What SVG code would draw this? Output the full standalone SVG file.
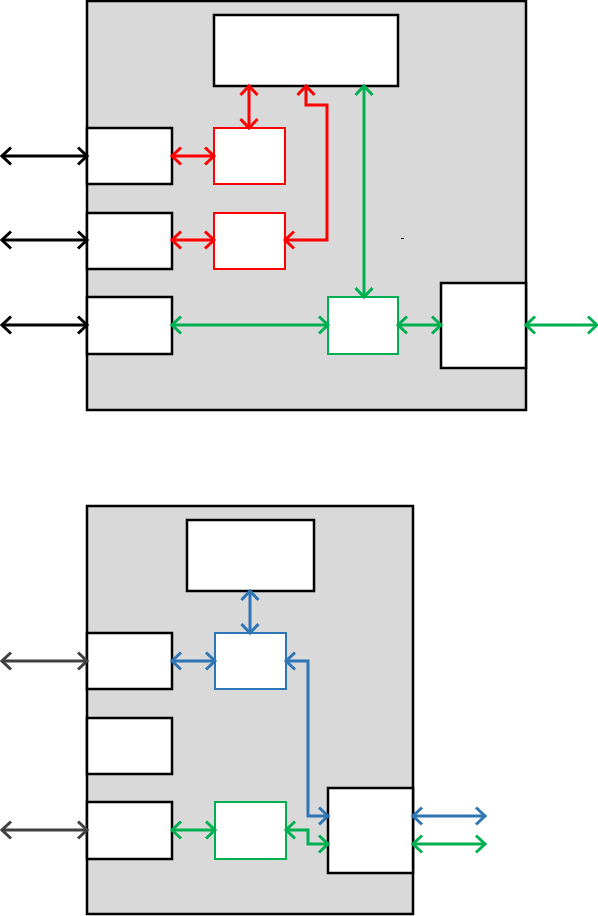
<svg xmlns="http://www.w3.org/2000/svg" width="598" height="916" viewBox="0 0 598 916">
<style>
.panel{fill:#D9D9D9;stroke:#000;stroke-width:2.5}
.box{fill:#fff;stroke:#000;stroke-width:2.5}
.rbox{fill:#fff;stroke:#FF0000;stroke-width:2}
.gbox{fill:#fff;stroke:#00B050;stroke-width:2}
.bbox{fill:#fff;stroke:#2E75B6;stroke-width:2}
.c{fill:none;stroke-width:3}
.k{stroke:#000;marker-start:url(#mk);marker-end:url(#mk)}
.d{stroke:#404040;marker-start:url(#md);marker-end:url(#md)}
.r{stroke:#FF0000;marker-start:url(#mr);marker-end:url(#mr)}
.g{stroke:#00B050;marker-start:url(#mg);marker-end:url(#mg)}
.b{stroke:#2E75B6;marker-start:url(#mb);marker-end:url(#mb)}
</style>
<defs>
<marker id="mk" markerUnits="userSpaceOnUse" orient="auto-start-reverse" refX="0" refY="0" markerWidth="20" markerHeight="20" overflow="visible"><path d="M-9,-8.5 L0,0 L-9,8.5" fill="none" stroke="#000" stroke-width="3"/></marker>
<marker id="md" markerUnits="userSpaceOnUse" orient="auto-start-reverse" refX="0" refY="0" markerWidth="20" markerHeight="20" overflow="visible"><path d="M-9,-8.5 L0,0 L-9,8.5" fill="none" stroke="#404040" stroke-width="3"/></marker>
<marker id="mr" markerUnits="userSpaceOnUse" orient="auto-start-reverse" refX="0" refY="0" markerWidth="20" markerHeight="20" overflow="visible"><path d="M-9,-8.5 L0,0 L-9,8.5" fill="none" stroke="#FF0000" stroke-width="3"/></marker>
<marker id="mg" markerUnits="userSpaceOnUse" orient="auto-start-reverse" refX="0" refY="0" markerWidth="20" markerHeight="20" overflow="visible"><path d="M-9,-8.5 L0,0 L-9,8.5" fill="none" stroke="#00B050" stroke-width="3"/></marker>
<marker id="mb" markerUnits="userSpaceOnUse" orient="auto-start-reverse" refX="0" refY="0" markerWidth="20" markerHeight="20" overflow="visible"><path d="M-9,-8.5 L0,0 L-9,8.5" fill="none" stroke="#2E75B6" stroke-width="3"/></marker>
</defs>
<rect width="598" height="916" fill="#fff"/>
<g id="panel-top"><rect class="panel" x="87" y="1" width="439" height="409"/></g>
<g id="panel-bottom"><rect class="panel" x="87" y="506" width="326" height="408"/></g>
<g id="top-nodes">
<g id="t-main"><rect class="box" x="214" y="15" width="184" height="71"/></g>
<g id="t-left1"><rect class="box" x="87" y="128" width="85" height="56"/></g>
<g id="t-left2"><rect class="box" x="87" y="213" width="85" height="56"/></g>
<g id="t-left3"><rect class="box" x="87" y="297" width="85" height="57"/></g>
<g id="t-red1"><rect class="rbox" x="214" y="128" width="71" height="56"/></g>
<g id="t-red2"><rect class="rbox" x="214" y="213" width="71" height="56"/></g>
<g id="t-green"><rect class="gbox" x="328" y="297" width="70" height="57"/></g>
<g id="t-right"><rect class="box" x="441" y="283" width="85" height="85"/></g>
<rect x="401" y="238" width="3" height="1" fill="#000"/>
</g>
<g id="bottom-nodes">
<g id="b-main"><rect class="box" x="187" y="520" width="127" height="71"/></g>
<g id="b-left1"><rect class="box" x="87" y="633" width="85" height="56"/></g>
<g id="b-left2"><rect class="box" x="87" y="718" width="85" height="56"/></g>
<g id="b-left3"><rect class="box" x="87" y="802" width="85" height="57"/></g>
<g id="b-blue"><rect class="bbox" x="215" y="633" width="71" height="56"/></g>
<g id="b-green"><rect class="gbox" x="215" y="802" width="71" height="57"/></g>
<g id="b-right"><rect class="box" x="328" y="788" width="85" height="85"/></g>
</g>
<g id="connectors">
<path class="c k" d="M2,156 H87"/>
<path class="c k" d="M2,240 H87"/>
<path class="c k" d="M2,325 H87"/>
<path class="c r" d="M172,156 H214"/>
<path class="c r" d="M172,240 H214"/>
<path class="c r" d="M249,86 V128"/>
<path class="c r" d="M285,240 H327 V105 H306 V86"/>
<path class="c g" d="M364,86 V297"/>
<path class="c g" d="M172,325 H328"/>
<path class="c g" d="M398,325 H441"/>
<path class="c g" d="M526,325 H597"/>
<path class="c d" d="M2,661 H87"/>
<path class="c d" d="M2,830 H87"/>
<path class="c b" d="M172,661 H215"/>
<path class="c b" d="M250,591 V633"/>
<path class="c b" d="M286,661 H308 V816 H328"/>
<path class="c b" d="M413,816 H485"/>
<path class="c g" d="M172,830 H215"/>
<path class="c g" d="M286,830 H308 V844 H328"/>
<path class="c g" d="M413,844 H485"/>
</g>
</svg>
